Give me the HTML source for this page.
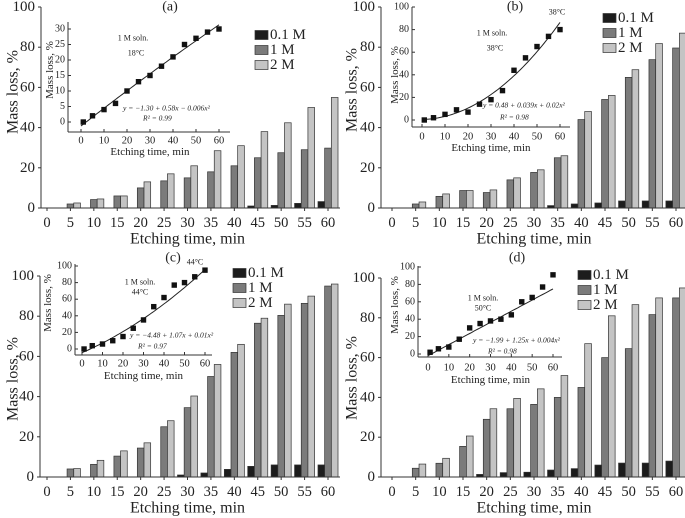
<!DOCTYPE html>
<html><head><meta charset="utf-8"><style>
html,body{margin:0;padding:0;background:#fff;}
svg{display:block;font-family:"Liberation Serif",serif;}
</style></head><body>
<svg id="fig" width="685" height="518" viewBox="0 0 685 518" xmlns="http://www.w3.org/2000/svg"></svg>
<script>
const times = [0,5,10,15,20,25,30,35,40,45,50,55,60];
const yTicks = [0,20,40,60,80,100];
const seriesNames = ["0.1 M","1 M","2 M"];
const aLow  = [0,0,0,0,0,0,0,0,0,1,1.3,2.3,3.2];
const aMid  = [0,2,4.2,6,10,13.5,15,18,21,25,27.5,29,29.8];
const aHigh = [0,2.5,4.5,6,13,17,21,28.5,31,38,42.4,50,55];
const bLow  = [0,0,0,0,0,0,0,1.2,2,2.5,3.5,3.5,3.5];
const bMid  = [0,2,5.8,8.7,7.7,14,17.7,25,44,54,65,73.8,79.6];
const bHigh = [0,3,7,8.7,9,15,19,26,48,56,68.8,81.8,87];
const cLow  = [0,0,0,0,0,0,1,2,3.8,5.3,6,6,6];
const cMid  = [0,4,6.3,10.4,14.4,25,34.5,50,62,76.5,80.4,86.4,95];
const cHigh = [0,4.2,8.3,13,17,28,40.3,56,66,79,86,90,96];
const dLow  = [0,0,0,0,1.3,2.2,2.4,3.5,4.2,6,7,7,8];
const dMid  = [0,4.4,6.9,15.4,29,34.3,36.5,40,45,60,64.5,81.6,90];
const dHigh = [0,6.5,9.4,20.6,34.3,39.5,44.3,51,67,81,86.6,90,95];
const insetTimes = [1,5,10,15,20,25,30,35,40,45,50,55,60];
const aInset = [0,2,4,6,10,13,15,18,21,25,27,29,30];
const bInset = [0,2,5,9,7,14,18,26,44,55,65,74,80];
const cInset = [0,4,6,10,15,25,35,51,62,77,80,87,95];
const dInset = [2,6,8,17,30,35,38,40,45,60,65,77,91];
const aFit = [-1.3,0.58,-0.0006];
const bFit = [0.48,0.039,0.0232];
const cFit = [-4.48,1.07,0.01];
const dFit = [-2,1.28,0];
const aInsetYTicks = [0,5,10,15,20,25,30];
const insetYTicks = [0,20,40,60,80,100];
const insetXTicks = [0,10,20,30,40,50,60];

const NS="http://www.w3.org/2000/svg";
const svg=document.getElementById('fig');
function mk(tag,attrs,parent){const e=document.createElementNS(NS,tag);for(const k in attrs)e.setAttribute(k,attrs[k]);(parent||svg).appendChild(e);return e;}
function txt(s,x,y,size,anchor,parent,extra){const t=mk('text',Object.assign({x:x,y:y,'font-size':size,'text-anchor':anchor||'middle','dominant-baseline':'central',fill:'#222'},extra||{}),parent);t.textContent=s;return t;}
const colors=["#1c1c1c","#7b7b7b","#c4c4c4"];

function panel(p){
  const g=mk('g',{});
  
  
  const sx=v=>p.c0+(p.c60-p.c0)*v/60;
  const sy=v=>p.y0+(p.y100-p.y0)*v/100;
  const step=(p.c60-p.c0)/12, bw=step*0.285;
  p.series.forEach((arr,si)=>{
    arr.forEach((v,i)=>{
      if(v<=0)return;
      const cx=sx(times[i])+(si-1)*bw;
      const r=mk('rect',{x:cx-bw/2,y:sy(v),width:bw,height:p.y0-sy(v),fill:colors[si],stroke:'#333','stroke-width':0.7},g);
      
      
    });
  });
  const ax=mk('line',{x1:p.ax,y1:p.y0,x2:p.right,y2:p.y0,stroke:'#333','stroke-width':1},g);
  
  
  const ay=mk('line',{x1:p.ax,y1:p.y0,x2:p.ax,y2:p.y100,stroke:'#333','stroke-width':1},g);
  
  
  yTicks.forEach(v=>{
    mk('line',{x1:p.ax-3,y1:sy(v),x2:p.ax,y2:sy(v),stroke:'#333'},g);
    const t=txt(String(v),p.ax-6,sy(v),15,'end',g);
    
    
  });
  times.forEach(v=>{
    mk('line',{x1:sx(v),y1:p.y0,x2:sx(v),y2:p.y0+3,stroke:'#333'},g);
    const t=txt(String(v),sx(v),p.y0+15,14.5,'middle',g);
    
    
  });
  const xt=txt('Etching time, min',(p.c0+p.c60)/2,p.y0+31,16,'middle',g);
  
  
  const yt=txt('Mass loss, %',0,0,16,'middle',g,{transform:'translate('+p.ytx+','+p.yty+') rotate(-90)'});
  
  
  const pt=txt('('+p.id+')',p.tx,p.ty,14,'middle',g);
  
  
  seriesNames.forEach((n,i)=>{
    const ly=p.ly+i*15;
    const r=mk('rect',{x:p.lx,y:ly-4.5,width:13,height:9,fill:colors[i],stroke:'#333','stroke-width':0.7},g);
    
    
    const t=txt(n,p.lx+15,ly,15,'start',g);
    
    
  });
  const q=p.inset;
  const ig=mk('g',{},g);
  
  
  const ix=v=>q.x0+(q.x60-q.x0)*v/60;
  const iy=v=>q.yb+(q.yt-q.yb)*v/q.ymax;
  mk('line',{x1:q.left,y1:q.bottom,x2:q.right,y2:q.bottom,stroke:'#333'},ig);
  mk('line',{x1:q.left,y1:q.bottom,x2:q.left,y2:q.top,stroke:'#333'},ig);
  q.yticks.forEach(v=>{
    mk('line',{x1:q.left,y1:iy(v),x2:q.left+3,y2:iy(v),stroke:'#333'},ig);
    const t=txt(String(v),q.left-3,iy(v),10,'end',ig);
    
    
  });
  insetXTicks.forEach(v=>{
    mk('line',{x1:ix(v),y1:q.bottom,x2:ix(v),y2:q.bottom-3,stroke:'#333'},ig);
    const t=txt(String(v),ix(v),q.lab,10.5,'middle',ig);
    
    
  });
  const it=txt('Etching time, min',(q.x0+q.x60)/2,q.tit,11,'middle',ig);
  
  
  const iyt=txt('Mass loss, %',0,0,11,'middle',ig,{transform:'translate('+q.ytx+','+q.yty+') rotate(-90)'});
  
  
  let d='';
  for(let x=0;x<=60;x+=1){const v=q.fit[0]+q.fit[1]*x+q.fit[2]*x*x;d+=(x?'L':'M')+ix(x).toFixed(1)+','+iy(v).toFixed(1);}
  const fl=mk('path',{d:d,fill:'none',stroke:'#222','stroke-width':1},ig);
  
  
  q.pts.forEach((v,i)=>{
    const m=mk('rect',{x:ix(insetTimes[i])-2.7,y:iy(v)-2.7,width:5.4,height:5.4,fill:'#111'},ig);
    
    
  });
  q.notes.forEach(n=>{
    const t=txt(n[0],n[1],n[2],n[3]||8,n[4]||'middle',ig,{'font-style':n[5]?'italic':'normal'});
    
    
  });
}

panel({id:'a',series:[aLow,aMid,aHigh],ax:41,c0:47,c60:328,y0:208,y100:7,right:340,ytx:13,yty:92,tx:170,ty:7,lx:255,ly:35,
 inset:{left:68,bottom:132,right:230,top:22,x0:81,x60:219,yb:122,yt:29,ymax:30,yticks:aInsetYTicks,lab:141,tit:152,ytx:50,yty:70,fit:aFit,pts:aInset,
 notes:[['1 M soln.',133,38,8],['18°C',136,53,8],['y = −1.30 + 0.58x − 0.006x²',123,108,7.5,'start',1],['R² = 0.99',143,118,7.5,'start',1]]}});
panel({id:'b',series:[bLow,bMid,bHigh],ax:381,c0:392,c60:676,y0:208,y100:7,right:685,ytx:352,yty:90,tx:515,ty:7,lx:603,ly:18,
 inset:{left:412,bottom:127,right:570,top:7,x0:422,x60:560,yb:120,yt:7,ymax:100,yticks:insetYTicks,lab:137,tit:148,ytx:395,yty:75,fit:bFit,pts:bInset,
 notes:[['1 M soln.',492,33,8],['38°C',495,48,8],['38°C',557,12,8],['y = 0.48 + 0.039x + 0.02x²',483,105,7.5,'start',1],['R² = 0.98',500,117,7.5,'start',1]]}});
panel({id:'c',series:[cLow,cMid,cHigh],ax:40,c0:47,c60:328,y0:477,y100:276,right:340,ytx:13,yty:379,tx:173,ty:258,lx:233,ly:273,
 inset:{left:75,bottom:355,right:212,top:264,x0:82,x60:205,yb:349,yt:266,ymax:100,yticks:insetYTicks,lab:364,tit:376,ytx:48,yty:303,fit:cFit,pts:cInset,
 notes:[['1 M soln.',140,282,8],['44°C',140,292,8],['44°C',195,262,8],['y = −4.48 + 1.07x + 0.01x²',130,335,7.5,'start',1],['R² = 0.97',138,346,7.5,'start',1]]}});
panel({id:'d',series:[dLow,dMid,dHigh],ax:381,c0:392,c60:676,y0:477,y100:278,right:685,ytx:352,yty:378,tx:517,ty:258,lx:578,ly:275,
 inset:{left:418,bottom:357,right:562,top:266,x0:428,x60:553,yb:354,yt:267,ymax:100,yticks:insetYTicks,lab:368,tit:380,ytx:395,yty:305,fit:dFit,pts:dInset,
 notes:[['1 M soln.',483,298,8],['50°C',483,308,8],['y = −1.99 + 1.25x + 0.004x²',473,340,7.5,'start',1],['R² = 0.98',488,351,7.5,'start',1]]}});
</script>
</body></html>
